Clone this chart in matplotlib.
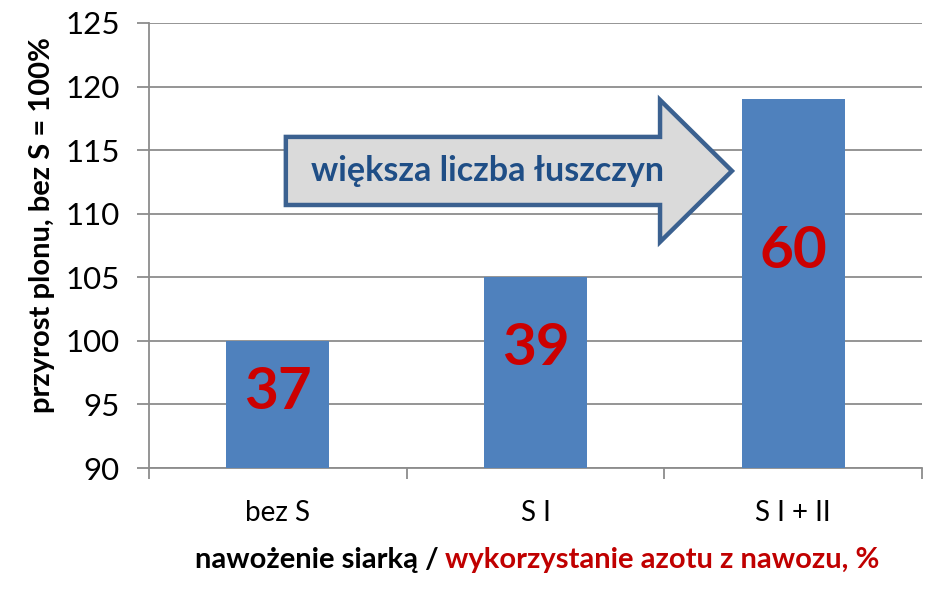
import matplotlib
matplotlib.use("Agg")
import matplotlib.pyplot as plt
from matplotlib.patches import Polygon
import numpy as np

categories = ["bez S", "S I", "S I + II"]
yield_values = [100, 105, 119]
nitrogen_use = [37, 39, 60]
y_ticks = [90, 95, 100, 105, 110, 115, 120, 125]

FONT = ["Lato", "DejaVu Sans"]
plt.rcParams["font.family"] = FONT

fig = plt.figure(figsize=(9.4, 5.89), dpi=100)
ax = fig.add_axes([0.1585, 0.2054, 0.8225, 0.7556])

x = np.arange(len(categories))
ax.bar(x, yield_values, width=0.4, color="#4F81BD", zorder=3)

ax.set_ylim(90, 125)
ax.set_xlim(-0.5, len(categories) - 0.5)
ax.set_yticks(y_ticks)
ax.set_yticklabels([str(v) for v in y_ticks], fontsize=22.5)
ax.yaxis.grid(True, color="#8C8C8C", linewidth=1.3, zorder=0)
ax.set_axisbelow(True)

# category labels centred, ticks between categories
ax.set_xticks(x)
ax.set_xticklabels(categories, fontsize=20)
ax.tick_params(axis="x", length=0, pad=23)
ax.set_xticks(np.arange(-0.5, len(categories), 1.0), minor=True)
ax.tick_params(axis="x", which="minor", length=8, color="#8C8C8C", width=1.3)
ax.tick_params(axis="y", length=9, color="#8C8C8C", width=1.3, pad=12)

for s in ["top", "right"]:
    ax.spines[s].set_visible(False)
for s in ["left", "bottom"]:
    ax.spines[s].set_color("#8C8C8C")
    ax.spines[s].set_linewidth(1.3)

# data labels (nitrogen use, %) inside bars
label_offsets = [4.1, 5.6, 12.0]
for xi, v, n, off in zip(x, yield_values, nitrogen_use, label_offsets):
    ax.text(xi, v - off, str(n), ha="center", va="center", color="#CC0000",
            fontsize=42, fontweight="bold", zorder=5)

ax.set_ylabel("przyrost plonu, bez S = 100%", fontsize=21, fontweight="bold")
ax.yaxis.set_label_coords(-0.122, 0.546)

# x-axis title in two colours
t1 = fig.text(0.207, 0.05, "nawożenie siarką / ", fontsize=21, fontweight="bold",
              color="black", ha="left", va="center")
fig.canvas.draw()
bb = t1.get_window_extent()
inv = fig.transFigure.inverted()
x_end = inv.transform((bb.x1, bb.y0))[0]
fig.text(x_end, 0.05, "wykorzystanie azotu z nawozu, %", fontsize=21,
         fontweight="bold", color="#C00000", ha="left", va="center")

# arrow annotation
arrow_pts = [
    (0.177, 0.591), (0.661, 0.591), (0.661, 0.508), (0.754, 0.6675),
    (0.661, 0.827), (0.661, 0.744), (0.177, 0.744),
]
arrow = Polygon(arrow_pts, closed=True, transform=ax.transAxes,
                facecolor="#DADADA", edgecolor="#3B6190", linewidth=3.2,
                zorder=6, joinstyle="miter", clip_on=False)
ax.add_patch(arrow)
ax.text(0.4375, 0.6675, "większa liczba łuszczyn", transform=ax.transAxes,
        ha="center", va="center", fontsize=24.5, fontweight="bold",
        color="#1F4E86", zorder=7)

fig.savefig("out.png", dpi=100, facecolor="white")
